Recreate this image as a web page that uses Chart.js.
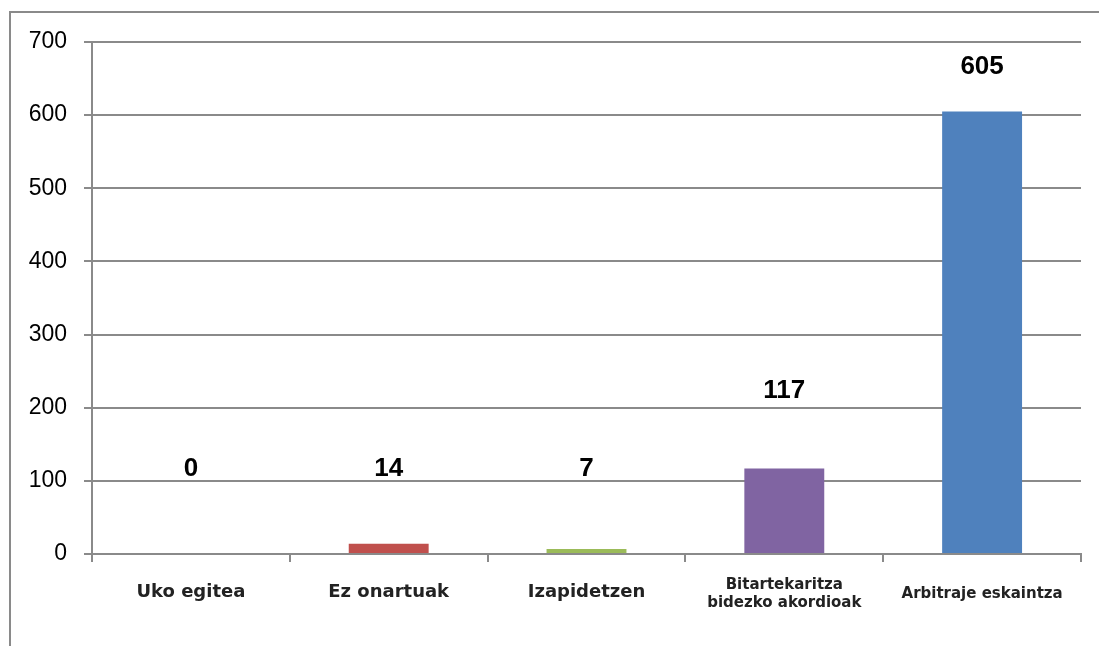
<!DOCTYPE html>
<html>
<head>
<meta charset="utf-8">
<script src="https://cdn.jsdelivr.net/npm/chart.js@4/dist/chart.umd.min.js"></script>
<style>
  html, body { margin: 0; padding: 0; background: #fff; }
  #frame {
    position: absolute; left: 9px; top: 11px;
    width: 1200px; height: 700px;
    border: 2px solid #8a8a8a;
  }
  #wrap { position: absolute; left: 0; top: 0; width: 1099px; height: 646px; }
</style>
</head>
<body>
<div id="frame"></div>
<div id="wrap"><canvas id="chart"></canvas></div>
<script>
/* data */
const categories = ["Uko egitea", "Ez onartuak", "Izapidetzen",
                    ["Bitartekaritza", "bidezko akordioak"], "Arbitraje eskaintza"];
const values     = [0, 14, 7, 117, 605];
const barColors  = ["#C0504D", "#C0504D", "#9BBB59", "#8064A2", "#4F81BD"];
/* where the value labels sit, in axis units */
const labelAt    = [118, 118, 118, 224, 668];
const yTicks     = [0, 100, 200, 300, 400, 500, 600, 700];

const GRID = "#8a8a8a";

/* value labels drawn above each bar */
const valueLabels = {
    id: "valueLabels",
    afterDatasetsDraw(chart) {
        const ctx = chart.ctx;
        const meta = chart.getDatasetMeta(0);
        const ys = chart.scales.y;
        ctx.save();
        ctx.font = "bold 26px 'Liberation Sans', Arial, sans-serif";
        ctx.fillStyle = "#000";
        ctx.textAlign = "center";
        ctx.textBaseline = "middle";
        meta.data.forEach((bar, i) => {
            ctx.fillText(String(values[i]), bar.x, ys.getPixelForValue(labelAt[i]) + 1);
        });
        ctx.restore();
    }
};

new Chart(document.getElementById("chart").getContext("2d"), {
    type: "bar",
    data: {
        labels: categories,
        datasets: [{
            data: values,
            backgroundColor: barColors,
            borderWidth: 0,
            barPercentage: 0.404,
            categoryPercentage: 1.0
        }]
    },
    options: {
        responsive: true,
        maintainAspectRatio: false,
        animation: false,
        layout: { padding: { top: 42, right: 18, left: 0, bottom: 0 } },
        plugins: {
            legend: { display: false },
            tooltip: { enabled: false }
        },
        scales: {
            x: {
                grid: {
                    drawOnChartArea: false,
                    drawTicks: true,
                    tickLength: 8,
                    color: GRID,
                    lineWidth: 2
                },
                border: { display: true, color: GRID, width: 2 },
                ticks: {
                    color: "#222",
                    padding: 23,
                    maxRotation: 0,
                    autoSkip: false,
                    crossAlign: "center",
                    font: (ctx) => ({
                        family: "'DejaVu Sans', sans-serif",
                        weight: "bold",
                        size: ctx.index >= 3 ? 15 : 18,
                        lineHeight: 1.2
                    })
                },
                afterFit(scale) { scale.height = 92; }
            },
            y: {
                min: 0,
                max: 700,
                afterBuildTicks(scale) {
                    scale.ticks = yTicks.map(v => ({ value: v }));
                },
                grid: {
                    drawTicks: true,
                    tickLength: 8,
                    color: GRID,
                    lineWidth: 2
                },
                border: { display: true, color: GRID, width: 2 },
                ticks: {
                    color: "#000",
                    padding: 17,
                    font: { family: "'Liberation Sans', Arial, sans-serif", size: 23 }
                },
                afterFit(scale) { scale.width = 92; }
            }
        }
    },
    plugins: [valueLabels]
});
</script>
</body>
</html>
